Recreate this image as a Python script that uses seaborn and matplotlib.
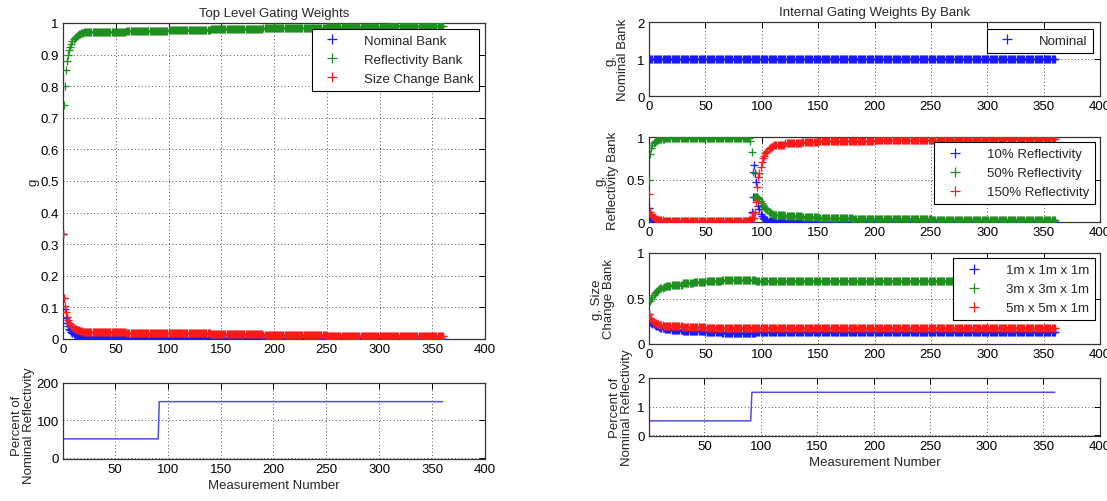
import matplotlib
matplotlib.use("Agg")
import matplotlib.pyplot as plt
from matplotlib.lines import Line2D
import seaborn as sns

# ---------------- data ----------------
measurement = list(range(0, 361))

# Top level gating weights
top_reflectivity = ([0.333, 0.74, 0.80, 0.85, 0.88, 0.90, 0.915, 0.925, 0.935, 0.942,
                     0.948, 0.953, 0.957, 0.960, 0.962, 0.964, 0.966, 0.967, 0.968, 0.969]
                    + [0.970] * 10 + [0.972] * 30 + [0.975] * 40 + [0.977] * 40
                    + [0.980] * 50 + [0.983] * 60 + [0.986] * 60 + [0.990] * 51)
top_size_change = ([0.333, 0.13, 0.105, 0.085, 0.07, 0.06, 0.052, 0.046, 0.042, 0.038,
                    0.035, 0.033, 0.031, 0.029, 0.028, 0.027, 0.026, 0.025, 0.024, 0.023]
                   + [0.022] * 10 + [0.021] * 30 + [0.020] * 40 + [0.018] * 40
                   + [0.016] * 50 + [0.014] * 60 + [0.011] * 60 + [0.010] * 51)
top_nominal = ([0.333, 0.13, 0.095, 0.065, 0.05, 0.04, 0.033, 0.029, 0.023, 0.02,
                0.017, 0.015, 0.012, 0.011, 0.010, 0.009, 0.008, 0.007, 0.007, 0.006]
               + [0.006] * 10 + [0.005] * 30 + [0.004] * 40 + [0.003] * 40
               + [0.003] * 50 + [0.002] * 60 + [0.002] * 60 + [0.001] * 51)

# Internal weights: nominal bank
int_nominal = [1.0] * 361

# Internal weights: reflectivity bank
refl_50 = ([0.50, 0.80, 0.87, 0.91, 0.93, 0.945, 0.955, 0.962, 0.968, 0.972,
            0.975, 0.978, 0.980, 0.982, 0.984] + [0.986] * 15 + [0.990] * 60
           + [0.95, 0.82, 0.59, 0.30, 0.30, 0.29, 0.29, 0.28, 0.27, 0.25, 0.22,
              0.20, 0.18, 0.16, 0.15, 0.14]
           + [0.12, 0.115, 0.105, 0.10, 0.095] + [0.08] * 10 + [0.065] * 15
           + [0.055] * 15 + [0.045] * 30 + [0.04] * 20 + [0.033] * 50
           + [0.028] * 50 + [0.024] * 60)
refl_10 = ([0.17, 0.08, 0.04, 0.02, 0.015, 0.01, 0.007, 0.006, 0.004, 0.003,
            0.003, 0.002, 0.002, 0.002, 0.002] + [0.002] * 15 + [0.0] * 60
           + [0.02, 0.12, 0.30, 0.67, 0.58, 0.47, 0.30, 0.19, 0.15, 0.10, 0.07,
              0.05, 0.04, 0.03, 0.025, 0.02]
           + [0.015] * 5 + [0.01] * 10 + [0.008] * 15 + [0.005] * 15
           + [0.004] * 30 + [0.003] * 20 + [0.002] * 50 + [0.002] * 50 + [0.001] * 60)
refl_150 = ([0.33, 0.12, 0.09, 0.07, 0.055, 0.045, 0.038, 0.032, 0.028, 0.025,
             0.022, 0.020, 0.018, 0.016, 0.014] + [0.012] * 15 + [0.010] * 60
            + [0.03, 0.06, 0.11, 0.05, 0.12, 0.24, 0.41, 0.53, 0.58, 0.65, 0.71,
               0.75, 0.78, 0.81, 0.825, 0.84]
            + [0.86, 0.87, 0.88, 0.885, 0.89] + [0.91] * 10 + [0.93] * 15
            + [0.94] * 15 + [0.95] * 30 + [0.957] * 20 + [0.965] * 50
            + [0.97] * 50 + [0.975] * 60)

# Internal weights: size change bank
size_3m = ([0.333, 0.47, 0.50, 0.52, 0.54, 0.555, 0.57, 0.58, 0.59, 0.60, 0.61,
            0.615, 0.62, 0.625, 0.63] + [0.64] * 5 + [0.65] * 10 + [0.665] * 10
           + [0.68] * 10 + [0.69] * 15 + [0.70] * 30 + [0.695] * 266)
size_5m = ([0.333, 0.29, 0.27, 0.255, 0.245, 0.235, 0.228, 0.222, 0.217, 0.213,
            0.21, 0.207, 0.204, 0.202, 0.20] + [0.197] * 5 + [0.193] * 10
           + [0.188] * 10 + [0.182] * 10 + [0.178] * 15 + [0.175] * 30
           + [0.177] * 266)
size_1m = ([0.333, 0.24, 0.23, 0.225, 0.215, 0.21, 0.202, 0.198, 0.193, 0.187,
            0.18, 0.178, 0.176, 0.173, 0.17] + [0.163] * 5 + [0.157] * 10
           + [0.147] * 10 + [0.138] * 10 + [0.132] * 15 + [0.125] * 30
           + [0.128] * 266)

# True reflectivity profile
refl_percent = [50] * 92 + [150] * 269
refl_fraction = [0.5] * 92 + [1.5] * 269

# Tick labels
x_ticks_main = [0, 50, 100, 150, 200, 250, 300, 350, 400]
x_ticks_bottom = [50, 100, 150, 200, 250, 300, 350, 400]
g_ticks = [0, 0.1, 0.2, 0.3, 0.4, 0.5, 0.6, 0.7, 0.8, 0.9, 1.0]
g_tick_labels = ["0", "0.1", "0.2", "0.3", "0.4", "0.5", "0.6", "0.7", "0.8", "0.9", "1"]
half_ticks = [0, 0.5, 1]
half_tick_labels = ["0", "0.5", "1"]

top_labels = ["Nominal Bank", "Reflectivity Bank", "Size Change Bank"]
refl_labels = ["10% Reflectivity", "50% Reflectivity", "150% Reflectivity"]
size_labels = ["1m x 1m x 1m", "3m x 3m x 1m", "5m x 5m x 1m"]

for arr in (top_reflectivity, top_size_change, top_nominal, refl_50, refl_10, refl_150,
            size_3m, size_5m, size_1m, refl_percent):
    assert len(arr) == len(measurement), len(arr)

# ---------------- style ----------------
sns.set_style("white")
plt.rcParams["font.family"] = ["Liberation Sans", "DejaVu Sans"]
plt.rcParams["font.size"] = 9
BLUE, GREEN, RED = "#1a1aff", "#1f8f1f", "#ff1a1a"
LINE_BLUE = "#5050e0"

W, H = 1107, 502
fig = plt.figure(figsize=(W / 100, H / 100), dpi=100)


def px_axes(left, top, right, bottom):
    return fig.add_axes([left / W, 1 - bottom / H, (right - left) / W, (bottom - top) / H])


def style(ax):
    ax.grid(True, linestyle=(0, (1, 2.5)), color="#555555", linewidth=0.7)
    ax.tick_params(direction="in", top=True, right=True, length=4, width=0.7,
                   labelsize=9.5, pad=3, colors="black")
    for s in ax.spines.values():
        s.set_color("#333333")
        s.set_linewidth(0.9)


def plus(ax, y, color):
    sns.scatterplot(x=measurement, y=y, ax=ax, marker="+", s=36, color=color,
                    linewidth=0.95, legend=False, zorder=3)


def legend(ax, colors, labels, **kw):
    handles = [Line2D([], [], marker="+", linestyle="none", color=c, markersize=7,
                      markeredgewidth=0.9) for c in colors]
    leg = ax.legend(handles, labels, loc="upper right", frameon=True, fancybox=False,
                    framealpha=1, edgecolor="black", fontsize=9.5, handlelength=2.2,
                    handletextpad=1.3, labelspacing=0.5, borderpad=0.45, **kw)
    leg.get_frame().set_linewidth(0.8)
    return leg


# ---------------- left: top level ----------------
ax = px_axes(63, 24, 485, 340)
plus(ax, top_nominal, BLUE)
plus(ax, top_reflectivity, GREEN)
plus(ax, top_size_change, RED)
ax.set_xlim(0, 400)
ax.set_ylim(0, 1)
ax.set_xticks(x_ticks_main)
ax.set_yticks(g_ticks)
ax.set_yticklabels(g_tick_labels)
style(ax)
ax.set_title("Top Level Gating Weights", fontsize=9.5, pad=5)
ax.set_ylabel("g", fontsize=9.5)
ax.yaxis.set_label_coords(-0.055, 0.5)
legend(ax, [BLUE, GREEN, RED], top_labels, borderaxespad=0.45)

ax = px_axes(63, 384, 485, 460)
sns.lineplot(x=measurement, y=refl_percent, ax=ax, color=LINE_BLUE, linewidth=1.1)
ax.set_xlim(1, 400)
ax.set_ylim(-4, 200)
ax.set_xticks(x_ticks_bottom)
ax.set_yticks([0, 100, 200])
style(ax)
ax.set_xlabel("Measurement Number", fontsize=9.5, labelpad=3)
ax.set_ylabel("Percent of\nNominal Reflectivity", fontsize=9.5, linespacing=1.05)
ax.yaxis.set_label_coords(-0.066, 0.45)

# ---------------- right: internal weights ----------------
RL, RR = 649, 1100
ax = px_axes(RL, 23, RR, 97)
plus(ax, int_nominal, BLUE)
ax.set_xlim(0, 400)
ax.set_ylim(0, 2)
ax.set_xticks(x_ticks_main)
ax.set_yticks([0, 1, 2])
style(ax)
ax.set_title("Internal Gating Weights By Bank", fontsize=9.5, pad=5)
ax.set_ylabel("g,\nNominal Bank", fontsize=9.5, linespacing=1.05)
ax.yaxis.set_label_coords(-0.044, 0.5)
legend(ax, [BLUE], ["Nominal"], borderaxespad=0.5)

ax = px_axes(RL, 138, RR, 223)
plus(ax, refl_10, BLUE)
plus(ax, refl_50, GREEN)
plus(ax, refl_150, RED)
ax.set_xlim(0, 400)
ax.set_ylim(0, 1)
ax.set_xticks(x_ticks_main)
ax.set_yticks(half_ticks)
ax.set_yticklabels(half_tick_labels)
style(ax)
ax.set_ylabel("g,\nReflectivity Bank", fontsize=9.5, linespacing=1.05)
ax.yaxis.set_label_coords(-0.066, 0.5)
legend(ax, [BLUE, GREEN, RED], refl_labels, borderaxespad=0.4)

ax = px_axes(RL, 254, RR, 345)
plus(ax, size_1m, BLUE)
plus(ax, size_3m, GREEN)
plus(ax, size_5m, RED)
ax.set_xlim(0, 400)
ax.set_ylim(0, 1)
ax.set_xticks(x_ticks_main)
ax.set_yticks(half_ticks)
ax.set_yticklabels(half_tick_labels)
style(ax)
ax.set_ylabel("g, Size\nChange Bank", fontsize=9.5, linespacing=1.05)
ax.yaxis.set_label_coords(-0.075, 0.5)
legend(ax, [BLUE, GREEN, RED], size_labels, borderaxespad=0.4)

ax = px_axes(RL, 379, RR, 437)
sns.lineplot(x=measurement, y=refl_fraction, ax=ax, color=LINE_BLUE, linewidth=1.1)
ax.set_xlim(1, 400)
ax.set_ylim(-0.03, 2)
ax.set_xticks(x_ticks_bottom)
ax.set_yticks([0, 1, 2])
style(ax)
ax.set_xlabel("Measurement Number", fontsize=9.5, labelpad=3)
ax.set_ylabel("Percent of\nNominal Reflectivity", fontsize=9.5, linespacing=1.05)
ax.yaxis.set_label_coords(-0.035, 0.5)

fig.savefig("out.png", dpi=100)
